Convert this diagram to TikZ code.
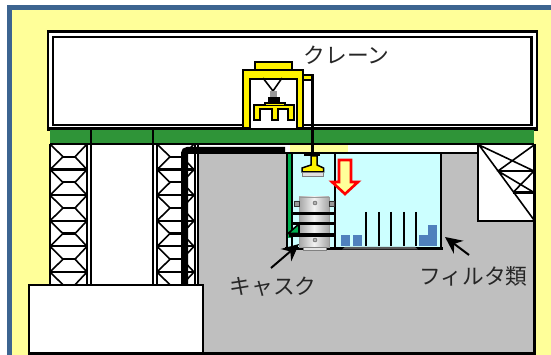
\documentclass[tikz,border=0pt]{standalone}
\usepackage{fontspec}
\setmainfont{Noto Sans CJK JP}
\usetikzlibrary{positioning,arrows.meta}
\definecolor{borde}{HTML}{3C6490}
\definecolor{fondo}{HTML}{FFFF99}
\definecolor{banda}{HTML}{2F9438}
\definecolor{piscina}{HTML}{CCFFFF}
\definecolor{filtro}{HTML}{4F81BD}
\definecolor{tira}{HTML}{00B050}
\tikzset{arista/.style={line width=2.2pt},
  fina/.style={line width=1.6pt},
  amarillo/.style={draw=black,fill=yellow,line width=1.5pt},
  rotulo/.style={font=\fontsize{21.7}{22}\selectfont,text=black!85,inner sep=0pt},
  flecha/.style={line width=2pt,-{Stealth[length=17pt,width=16pt]}}}
\begin{document}
\begin{tikzpicture}[x=1pt,y=-1pt]
  \useasboundingbox (0,0) rectangle (551,355);
  % fondo
  \fill[fondo] (0,0) rectangle (551,355);
  \fill[white] (0,0) rectangle (551,5);
  \fill[white] (0,0) rectangle (7,355);
  \fill[borde] (7,5) rectangle (551,10);
  \fill[borde] (7,5) rectangle (12,355);

  % edificio
  \draw[arista,fill=white] (48,31.5) rectangle (537,130);
  \draw[line width=2.6pt] (53,37) rectangle (531.5,125);
  \fill[white] (50,144) rectangle (534,285);
  \fill[banda] (50,128) rectangle (534,144);
  \draw[arista] (48,128.5) -- (537,128.5);
  \draw[fina] (50,144) -- (534,144);
  \draw[arista] (91,128) -- (91,144) (153,128) -- (153,144);

  % hormigon
  \fill[black!25] (198,153) rectangle (534,353);
  \fill[white] (478,145) rectangle (534,221);
  \draw[arista] (478,145) -- (478,221) -- (534,221);
  \draw[arista] (534.5,144) -- (534.5,353.5) -- (203,353.5);
  \fill[fondo] (290,145) rectangle (348,152);
  \draw[arista] (198,153) -- (478,153);

  % columnas
  \foreach \xa in {50,157}{
    \foreach \ya in {144,169.6,195.2,220.8,246.4,272}{
      \draw[fina] (\xa,\ya) -- (\xa+13,\ya+12.8) (\xa+25,\ya+12.8) -- (\xa+37,\ya)
        (\xa,\ya+25.6) -- (\xa+13,\ya+12.8) (\xa+25,\ya+12.8) -- (\xa+37,\ya+25.6);
      \draw[arista] (\xa+13,\ya+12.8) -- (\xa+25,\ya+12.8);
      \draw[arista] (\xa,\ya+25.6) -- (\xa+37,\ya+25.6);
    }
  }
  \fill[white] (50,286) rectangle (200,298);
  \foreach \xa in {50,87,91,153,157,195,198}{
    \draw[fina] (\xa,144) -- (\xa,285);
  }

  % esquina
  \draw[fina] (479,145) -- (534,171) (534,145) -- (498,171) -- (534,192.5)
    (534,171) -- (513,192.5) (479,145) -- (534,220);
  \draw[arista] (498,171) -- (534,171) (513,192.5) -- (534,192.5);

  % piscina
  \fill[piscina] (288,153) rectangle (441,248);
  \fill[tira] (286,153) rectangle (290.5,238);
  \draw[arista] (287,153) -- (287,250) (292,153) -- (292,250) (335,153) -- (335,250)
    (287,153) -- (441,153) -- (441,249);
  \draw[line width=3pt] (285,248.5) -- (443,248.5);
  \fill[black!65] (345,247) -- (415,247) -- (418,249.5) -- (342,249.5) -- cycle;

  % tubo
  \draw[line width=7pt,rounded corners=3pt] (184.5,285) -- (184.5,150.5) -- (285,150.5);

  % filtros
  \foreach \xa in {341,353,419}{
    \fill[filtro] (\xa,235) rectangle (\xa+9,246);
  }
  \fill[filtro] (428,225) rectangle (437,246);
  \foreach \xa in {366,379,391,404,416}{
    \draw[arista] (\xa,212) -- (\xa,246);
  }

  % contenedor
  \draw[black!40,left color=black!35,right color=black!35,middle color=black!5] (299,197) rectangle (329,247);
  \draw[black!50,fill=black!10] (303,247) rectangle (326,250.5);
  \foreach \ya in {203,240}{
    \draw[black!70,fill=black!30] (315,\ya) circle (2pt);
  }
  \draw[black!80,fill=black!40] (294,201) rectangle (299,206) (329,201) rectangle (334,206);
  \foreach \ya in {213.5,224}{
    \draw[line width=3pt] (292,\ya) -- (335,\ya);
  }
  \draw[line width=3.6pt] (289,235) -- (335,235);
  \draw[fina,fill=tira] (288,233.5) -- (299,224) -- (299,233.5) -- cycle;

  % grua
  \draw[amarillo] (255,62) rectangle (292,70);
  \draw[amarillo] (303,75) rectangle (313,80);
  \fill[white] (250,79) rectangle (297,128);
  \draw[amarillo] (243,128) -- (243,70) -- (303,70) -- (303,128) -- (297,128) -- (297,79) -- (250,79) -- (250,128) -- cycle;
  \draw[fina] (263,78) -- (273,91) -- (282,78);
  \fill[black!40] (270,91) rectangle (277,97);
  \fill[black] (268,97) rectangle (280,103);
  \draw[amarillo] (254,105) -- (294,105) -- (294,120) -- (288,120) -- (288,109) -- (278,109) -- (278,120)
    -- (272,120) -- (272,109) -- (260,109) -- (260,120) -- (254,120) -- cycle;
  \draw[amarillo] (265,103) rectangle (285,105.5);

  % cable
  \draw[line width=3pt] (312,76) -- (312,155);
  \fill[black] (304,154) rectangle (320,156.5);
  \draw[amarillo] (311,156) -- (317,156) -- (317,165) -- (323.5,168) -- (323.5,172) -- (302,172) -- (302,168) -- (311,165) -- cycle;
  \draw[black!50,fill=black!12] (302,172) rectangle (323,176.5);

  % flecha
  \draw[red,line width=2.6pt,fill=fondo] (339,160) -- (351,160) -- (351,182) -- (358,182) -- (345,194) -- (332,182) -- (339,182) -- cycle;

  % bloque
  \draw[arista,fill=white] (29,285) rectangle (203,353.5);

  % rotulos
  \node[rotulo] (grua) at (346.5,55) {クレーン};
  \node[rotulo] (contenedor) at (273,287) {キャスク};
  \node[rotulo] (filtros) at (473.5,276) {フィルタ類};
  \coordinate (cola1) at (271,268);
  \coordinate (punta1) at (299,244);
  \coordinate (cola2) at (469,255);
  \coordinate (punta2) at (445,237);
  \draw[flecha] (cola1) to (punta1);
  \draw[flecha] (cola2) to (punta2);
\end{tikzpicture}
\end{document}
